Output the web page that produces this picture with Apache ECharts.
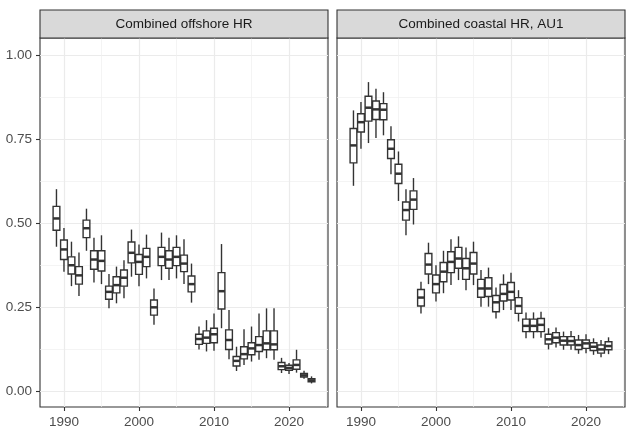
<!DOCTYPE html>
<html><head><meta charset="utf-8">
<script src="https://cdn.jsdelivr.net/npm/echarts@6/dist/echarts.min.js"></script>
<style>html,body{margin:0;padding:0;background:#fff}#c{width:634px;height:431px}</style>
</head><body><div id="c"></div>
<script>
// ---- data ----
const years = [1989,1990,1991,1992,1993,1994,1995,1996,1997,1998,1999,2000,2001,2002,2003,2004,2005,2006,2007,2008,2009,2010,2011,2012,2013,2014,2015,2016,2017,2018,2019,2020,2021,2022,2023];

const offshoreLow    = [0.430,0.356,0.313,0.284,0.418,0.324,0.319,0.247,0.262,0.277,0.341,0.313,0.336,0.198,0.331,0.331,0.336,0.319,0.264,0.125,0.119,0.121,0.188,0.096,0.061,0.079,0.089,0.094,0.099,0.094,0.055,0.052,0.056,0.038,0.024];
const offshoreQ1     = [0.479,0.392,0.349,0.319,0.457,0.363,0.358,0.274,0.293,0.313,0.382,0.348,0.371,0.227,0.374,0.366,0.374,0.356,0.296,0.140,0.143,0.145,0.245,0.125,0.076,0.097,0.109,0.119,0.124,0.124,0.065,0.063,0.066,0.043,0.029];
const offshoreMedian = [0.514,0.422,0.375,0.345,0.485,0.392,0.388,0.296,0.316,0.338,0.412,0.385,0.400,0.250,0.400,0.392,0.400,0.380,0.319,0.156,0.160,0.170,0.298,0.153,0.091,0.111,0.128,0.138,0.143,0.140,0.075,0.070,0.079,0.048,0.033];
const offshoreQ3     = [0.550,0.450,0.400,0.371,0.509,0.418,0.418,0.313,0.341,0.361,0.444,0.407,0.425,0.272,0.428,0.418,0.428,0.405,0.343,0.170,0.180,0.188,0.353,0.183,0.104,0.133,0.145,0.163,0.180,0.180,0.086,0.078,0.094,0.054,0.038];
const offshoreHigh   = [0.601,0.486,0.445,0.413,0.543,0.457,0.464,0.349,0.371,0.390,0.481,0.437,0.466,0.306,0.472,0.457,0.464,0.452,0.380,0.193,0.212,0.232,0.438,0.242,0.133,0.185,0.193,0.232,0.247,0.247,0.100,0.085,0.124,0.062,0.045];

const coastalLow    = [0.611,0.721,0.738,0.753,0.761,0.645,0.566,0.464,0.496,0.232,0.319,0.267,0.292,0.316,0.331,0.301,0.316,0.252,0.252,0.217,0.242,0.242,0.208,0.158,0.158,0.160,0.125,0.131,0.124,0.124,0.112,0.114,0.109,0.102,0.111];
const coastalQ1     = [0.679,0.771,0.803,0.808,0.807,0.692,0.618,0.509,0.541,0.254,0.349,0.293,0.326,0.353,0.366,0.333,0.349,0.280,0.282,0.237,0.269,0.272,0.232,0.178,0.178,0.178,0.141,0.145,0.138,0.138,0.125,0.128,0.122,0.114,0.124];
const coastalMedian = [0.731,0.800,0.843,0.838,0.837,0.721,0.647,0.539,0.570,0.279,0.377,0.319,0.356,0.385,0.395,0.366,0.380,0.306,0.306,0.265,0.290,0.296,0.254,0.195,0.195,0.198,0.155,0.160,0.151,0.150,0.138,0.143,0.133,0.125,0.135];
const coastalQ3     = [0.781,0.825,0.877,0.863,0.855,0.748,0.675,0.563,0.596,0.303,0.410,0.346,0.383,0.415,0.428,0.395,0.413,0.333,0.338,0.285,0.318,0.324,0.279,0.215,0.215,0.217,0.170,0.175,0.163,0.163,0.153,0.153,0.145,0.138,0.148];
const coastalHigh   = [0.835,0.860,0.919,0.899,0.889,0.788,0.713,0.601,0.634,0.326,0.442,0.375,0.418,0.452,0.461,0.428,0.445,0.361,0.368,0.309,0.348,0.353,0.301,0.235,0.235,0.237,0.188,0.190,0.178,0.180,0.168,0.170,0.158,0.153,0.161];

const panelTitles = ['Combined offshore HR', 'Combined coastal HR, AU1'];
const yTickValues = [0, 0.25, 0.5, 0.75, 1];
const yMinorValues = [0.125, 0.375, 0.625, 0.875];
const xTickValues = [1990, 2000, 2010, 2020];
const xMinorValues = [1995, 2005, 2015, 2025];

// ---- layout / style ----
const FONT = '"Liberation Sans", Arial, sans-serif';
const X_MIN = 1986.805, X_MAX = 2025.195;
const Y_MIN = -0.046, Y_MAX = 1.05;
const grids = [
  {left: 40, top: 38, width: 288, height: 369},
  {left: 337, top: 38, width: 288, height: 369}
];
const STRIP_H = 28;

const panels = [
  {lo: offshoreLow, q1: offshoreQ1, med: offshoreMedian, q3: offshoreQ3, hi: offshoreHigh},
  {lo: coastalLow, q1: coastalQ1, med: coastalMedian, q3: coastalQ3, hi: coastalHigh}
];

const xAxes = [], yAxes = [], series = [], graphics = [];
grids.forEach((g, i) => {
  // major x
  xAxes.push({
    type: 'value', gridIndex: i, min: X_MIN, max: X_MAX, position: 'bottom',
    axisLine: {show: false, onZero: false},
    axisTick: {show: true, customValues: xTickValues, length: 4, lineStyle: {color: '#333', width: 1.1}},
    axisLabel: {show: true, customValues: xTickValues, margin: 8, color: '#4d4d4d', fontSize: 13.5, fontFamily: FONT, formatter: v => String(v)},
    splitLine: {show: true, lineStyle: {color: '#ebebeb', width: 1.2}}
  });
  // minor x
  xAxes.push({
    type: 'value', gridIndex: i, min: X_MIN, max: X_MAX, position: 'bottom',
    axisLine: {show: false, onZero: false},
    axisTick: {show: false, customValues: xMinorValues},
    axisLabel: {show: false, customValues: xMinorValues},
    splitLine: {show: true, lineStyle: {color: '#efefef', width: 0.7}}
  });
  // major y
  yAxes.push({
    type: 'value', gridIndex: i, min: Y_MIN, max: Y_MAX, position: 'left',
    axisLine: {show: false, onZero: false},
    axisTick: {show: i === 0, customValues: yTickValues, length: 4, lineStyle: {color: '#333', width: 1.1}},
    axisLabel: {show: i === 0, customValues: yTickValues, margin: 8, color: '#4d4d4d', fontSize: 13.5, fontFamily: FONT, formatter: v => v.toFixed(2)},
    splitLine: {show: true, lineStyle: {color: '#ebebeb', width: 1.2}}
  });
  // minor y
  yAxes.push({
    type: 'value', gridIndex: i, min: Y_MIN, max: Y_MAX, position: 'left',
    axisLine: {show: false, onZero: false},
    axisTick: {show: false, customValues: yMinorValues},
    axisLabel: {show: false, customValues: yMinorValues},
    splitLine: {show: true, lineStyle: {color: '#efefef', width: 0.7}}
  });

  const p = panels[i];
  series.push({
    type: 'custom', xAxisIndex: i * 2, yAxisIndex: i * 2,
    encode: {x: 0, y: [1, 2, 3, 4, 5]},
    data: years.map((yr, k) => [yr, p.lo[k], p.q1[k], p.med[k], p.q3[k], p.hi[k]]),
    renderItem: function (params, api) {
      const x = api.value(0);
      const pLo = api.coord([x, api.value(1)]);
      const pQ1 = api.coord([x, api.value(2)]);
      const pMed = api.coord([x, api.value(3)]);
      const pQ3 = api.coord([x, api.value(4)]);
      const pHi = api.coord([x, api.value(5)]);
      const w = api.size([0.9, 0])[0];
      const cx = pMed[0];
      const stroke = '#333';
      return {
        type: 'group',
        children: [
          {type: 'line', shape: {x1: cx, y1: pQ3[1], x2: cx, y2: pHi[1]}, style: {stroke: stroke, lineWidth: 1.4}},
          {type: 'line', shape: {x1: cx, y1: pQ1[1], x2: cx, y2: pLo[1]}, style: {stroke: stroke, lineWidth: 1.4}},
          {type: 'rect', shape: {x: cx - w / 2, y: pQ3[1], width: w, height: pQ1[1] - pQ3[1]}, style: {fill: '#fff', stroke: stroke, lineWidth: 1.4}},
          {type: 'line', shape: {x1: cx - w / 2, y1: pMed[1], x2: cx + w / 2, y2: pMed[1]}, style: {stroke: stroke, lineWidth: 2.5}}
        ]
      };
    }
  });

  graphics.push({
    type: 'rect', shape: {x: g.left, y: g.top - STRIP_H, width: g.width, height: STRIP_H},
    style: {fill: '#d9d9d9', stroke: '#333', lineWidth: 1.1}, z: 10
  });
  graphics.push({
    type: 'text', x: g.left + g.width / 2, y: g.top - STRIP_H / 2,
    style: {text: panelTitles[i], fill: '#1a1a1a', font: '13.5px ' + FONT, textAlign: 'center', textVerticalAlign: 'middle'}, z: 11
  });
});

const chart = echarts.init(document.getElementById('c'), null, {renderer: 'canvas'});
chart.setOption({
  animation: false,
  backgroundColor: '#fff',
  grid: grids.map(g => Object.assign({show: true, borderColor: '#333', borderWidth: 1.1, backgroundColor: 'transparent', containLabel: false}, g)),
  xAxis: xAxes,
  yAxis: yAxes,
  series: series,
  graphic: graphics
});
</script>
</body></html>
